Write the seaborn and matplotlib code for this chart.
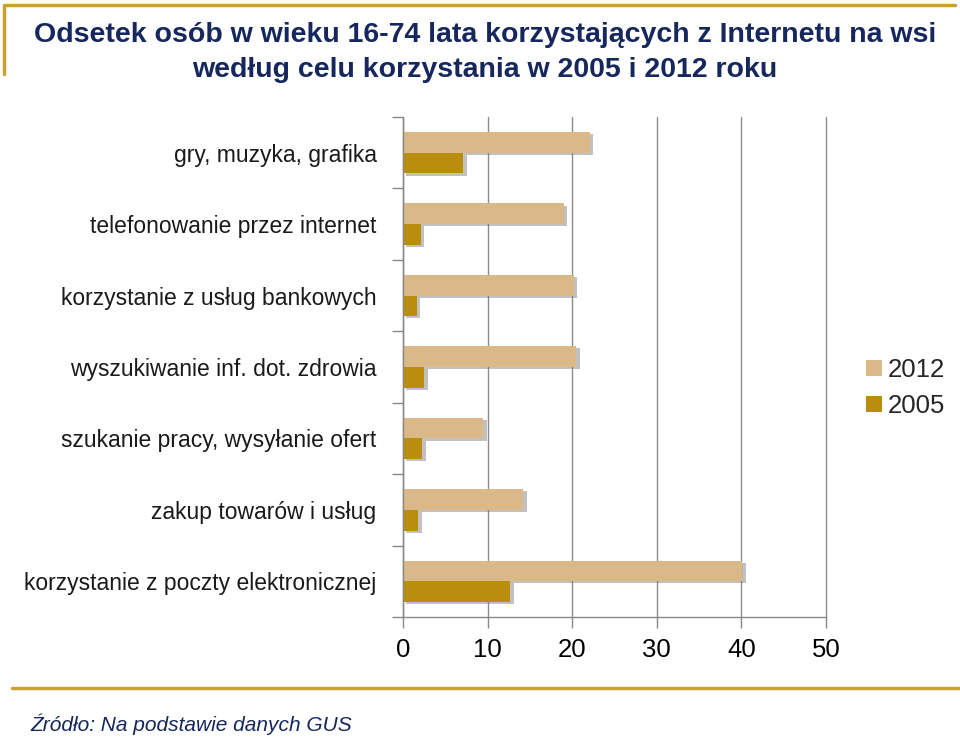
import numpy as np
import pandas as pd
import matplotlib
matplotlib.use("Agg")
import matplotlib.pyplot as plt
import matplotlib.patheffects as pe
from matplotlib.lines import Line2D
import seaborn as sns

# data (percent)
categories = [
    "gry, muzyka, grafika",
    "telefonowanie przez internet",
    "korzystanie z usług bankowych",
    "wyszukiwanie inf. dot. zdrowia",
    "szukanie pracy, wysyłanie ofert",
    "zakup towarów i usług",
    "korzystanie z poczty elektronicznej",
]
values_2012 = [22.1, 19.0, 20.2, 20.5, 9.5, 14.2, 40.1]
values_2005 = [7.1, 2.1, 1.6, 2.5, 2.3, 1.8, 12.7]
years = ["2012", "2005"]
colors = ["#DBB888", "#B88E0C"]
x_ticks = [0, 10, 20, 30, 40, 50]

df = pd.DataFrame({
    "kategoria": categories * 2,
    "rok": ["2012"] * len(categories) + ["2005"] * len(categories),
    "wartosc": values_2012 + values_2005,
})

sns.set_style("white")
plt.rcParams["font.family"] = ["Liberation Sans", "DejaVu Sans"]

fig = plt.figure(figsize=(9.6, 7.41), dpi=100)
ax = fig.add_axes([403 / 960, 1 - 617 / 741, (826 - 403) / 960, (617 - 117) / 741])

sns.barplot(data=df, y="kategoria", x="wartosc", hue="rok", hue_order=years,
            palette=colors, order=categories, orient="h", width=0.58,
            saturation=1, ax=ax, legend=True)

shadow = [pe.SimplePatchShadow(offset=(2.5, -1.5), shadow_rgbFace="#777777", alpha=0.45),
          pe.Normal()]
for p in ax.patches:
    p.set_path_effects(shadow)
    p.set_edgecolor("none")

ax.set_xlim(0, 50)
ax.set_ylim(len(categories) - 0.5, -0.5)
ax.set_xticks(x_ticks)
ax.set_xticklabels([str(t) for t in x_ticks], fontsize=18.5, color="black")
ax.set_yticks(range(len(categories)))
ax.set_yticklabels(categories, fontsize=16.5, color="#1a1a1a")
ax.set_yticks(np.arange(-0.5, len(categories) + 0.5, 1), minor=True)
ax.tick_params(left=True, bottom=True)
ax.tick_params(axis="y", which="major", length=0, pad=19)
ax.tick_params(axis="y", which="minor", left=True, length=8, color="#888888", width=1, direction="out")
ax.tick_params(axis="x", which="major", length=8, color="#888888", width=1, direction="out", pad=7)
ax.set_xlabel("")
ax.set_ylabel("")

ax.xaxis.grid(True, color="#8c8c8c", linewidth=1)
for gl in ax.get_xgridlines():
    gl.set_clip_on(False)
ax.yaxis.grid(False)
ax.set_axisbelow(True)
for s in ["top", "right"]:
    ax.spines[s].set_visible(False)
for s in ["left", "bottom"]:
    ax.spines[s].set_color("#888888")
    ax.spines[s].set_linewidth(1)

leg = ax.legend(loc="upper left", bbox_to_anchor=(1.071, 0.538), frameon=False,
                fontsize=18.5, handlelength=0.6, handleheight=0.6, handletextpad=0.25,
                labelspacing=0.45, borderaxespad=0)
for h in leg.legend_handles:
    h.set_path_effects([])

# title
navy = "#15275C"
fig.text(485 / 960, 1 - 35 / 741, "Odsetek osób w wieku 16-74 lata korzystających z Internetu na wsi",
         ha="center", va="center", fontsize=20.5, fontweight="bold", color=navy)
fig.text(485 / 960, 1 - 70 / 741, "według celu korzystania w 2005 i 2012 roku",
         ha="center", va="center", fontsize=20.5, fontweight="bold", color=navy)

# decorative gold lines
gold = "#C9A234"
fig.add_artist(Line2D([5 / 960, 955 / 960], [1 - 5 / 741, 1 - 5 / 741], color=gold, lw=2.5,
                      transform=fig.transFigure))
fig.add_artist(Line2D([4 / 960, 4 / 960], [1 - 5 / 741, 1 - 74 / 741], color=gold, lw=2.5,
                      transform=fig.transFigure))
fig.add_artist(Line2D([12 / 960, 1.0], [1 - 688 / 741, 1 - 688 / 741], color=gold, lw=2.5,
                      transform=fig.transFigure))

fig.text(30 / 960, 1 - 724 / 741, "Źródło: Na podstawie danych GUS", ha="left", va="center",
         fontsize=15, style="italic", color=navy)

fig.savefig("out.png", dpi=100)
